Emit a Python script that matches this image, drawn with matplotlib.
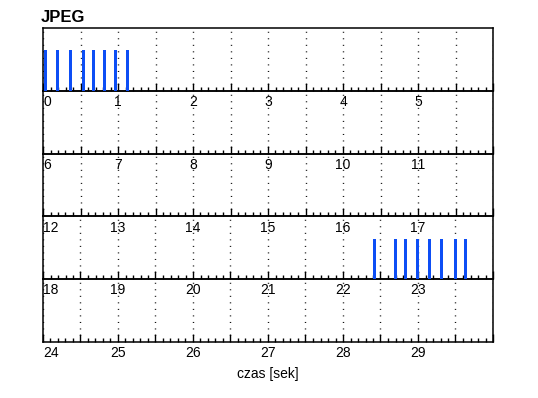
import numpy as np
import matplotlib
matplotlib.use("Agg")
import matplotlib.pyplot as plt

# frame times (seconds)
frame_times = [0.03, 0.19, 0.36, 0.54, 0.67, 0.82, 0.96, 1.12,
               22.42, 22.70, 22.83, 23.00, 23.16, 23.32, 23.50, 23.64]
bar_height = 0.645
row_span = 6      # seconds per row
n_rows = 5

plt.rcParams['font.family'] = ['Liberation Sans', 'DejaVu Sans']

fig = plt.figure(figsize=(5.38, 3.98), dpi=100)
W, H = 538, 398
left, right = 43, 493
top, bottom = 28, 342
row_h = (bottom - top) / n_rows

times = np.array(frame_times)
for r in range(n_rows):
    y0 = top + r * row_h
    ax = fig.add_axes([left / W, 1 - (y0 + row_h) / H, (right - left) / W, row_h / H])
    t0 = r * row_span
    sel = (times >= t0) & (times < t0 + row_span)
    ax.bar(times[sel], bar_height, width=0.04, color='#0d4ef5', align='center', zorder=3)
    ax.set_xlim(t0, t0 + row_span)
    ax.set_ylim(0, 1)
    ax.set_yticks([])

    majors = np.arange(t0, t0 + row_span + 0.01, 0.5)
    ax.set_xticks(majors)
    ax.set_xticks(np.arange(t0, t0 + row_span + 0.01, 0.1), minor=True)
    ax.set_xticklabels([str(int(m)) if m == int(m) and m < t0 + row_span else '' for m in majors])
    ax.get_xticklabels()[0].set_ha('left')
    ax.tick_params(axis='x', which='major', direction='in', length=6, width=1, pad=3,
                   labelsize=10, color='black')
    ax.tick_params(axis='x', which='minor', direction='in', length=3, width=1, color='black')
    ax.grid(which='major', axis='x', linestyle=(0, (0.7, 4)), color='black', lw=1)
    for s in ax.spines.values():
        s.set_linewidth(1.1)
        s.set_color('black')
    if r == n_rows - 1:
        ax.set_xlabel('czas [sek]', fontsize=10, labelpad=5)
    else:
        ax.set_zorder(n_rows - r)
        ax.patch.set_alpha(0)

fig.text(41 / W, 1 - 17 / H, 'JPEG', fontsize=12, fontweight='bold', ha='left', va='center')

fig.savefig('out.png', dpi=100)
